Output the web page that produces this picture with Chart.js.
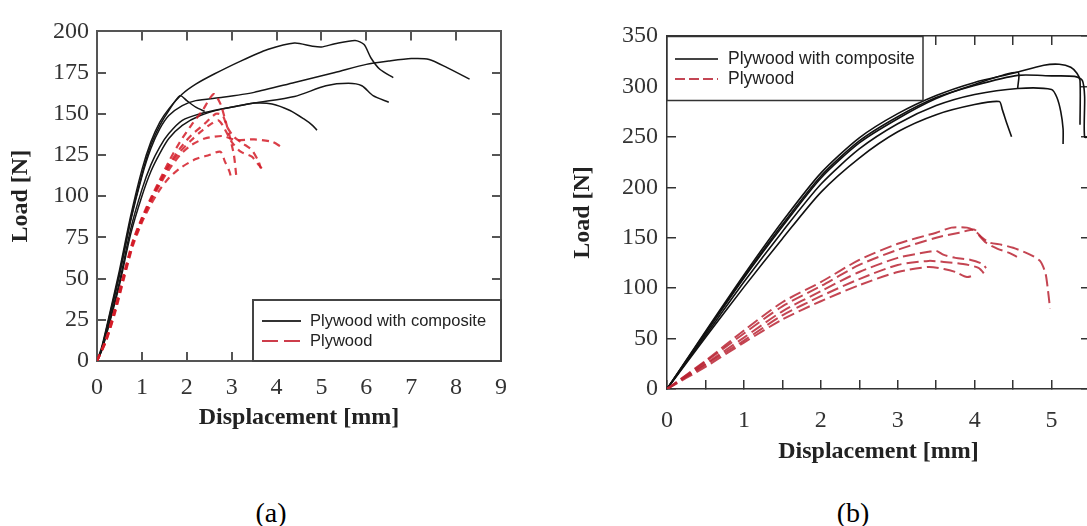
<!DOCTYPE html>
<html>
<head>
<meta charset="utf-8">
<script src="https://cdn.jsdelivr.net/npm/chart.js@4.4.1/dist/chart.umd.min.js"></script>
<style>
  html, body { margin: 0; padding: 0; background: #fff; width: 1087px; height: 526px; overflow: hidden; }
  #wrapA { position: absolute; left: 0; top: 0; width: 540px; height: 450px; }
  #wrapB { position: absolute; left: 540px; top: 0; width: 576px; height: 480px; }
  .cap { position: absolute; top: 497px; font: 28px "Liberation Serif", "Times New Roman", serif; color: #000; transform: translateX(-50%); line-height: 32px; }
</style>
</head>
<body>
<div id="wrapA"><canvas id="loadA" width="540" height="450"></canvas></div>
<div id="wrapB"><canvas id="loadB" width="576" height="480"></canvas></div>
<div class="cap" style="left:271px">(a)</div>
<div class="cap" style="left:853px">(b)</div>

<script>
const seriesNames = ['Plywood with composite', 'Plywood'];

// ---- panel (a) ----
const dispTicksA = [0, 1, 2, 3, 4, 5, 6, 7, 8, 9];
const loadTicksA = [0, 25, 50, 75, 100, 125, 150, 175, 200];

// [displacement mm, load N]
const compA1 = [[0,0],[0.1,8],[0.25,25],[0.5,55],[0.75,88],[1.0,116],[1.2,133],[1.4,145],[1.6,153],[1.9,162],[2.2,168],[2.6,174],[3.2,182],[3.8,189],[4.4,193],[4.8,191],[5.0,190.5],[5.3,192.5],[5.75,194.5],[5.95,192],[6.1,184],[6.3,177],[6.6,172]];
const compA2 = [[0,0],[0.1,7],[0.25,23],[0.5,52],[0.75,85],[1.0,112],[1.2,129],[1.4,141],[1.6,149],[1.9,155],[2.2,158],[2.8,160],[3.5,163],[4.4,169],[5.3,175],[6.0,180],[6.5,182],[7.0,183.5],[7.4,183],[7.8,178],[8.3,171]];
const compA3 = [[0,0],[0.1,6],[0.25,21],[0.5,48],[0.75,80],[1.0,104],[1.2,119],[1.4,130],[1.6,138],[1.9,146],[2.3,150],[2.8,153],[3.5,156.5],[4.4,160.5],[5.1,167],[5.6,168.5],[5.9,167],[6.15,161],[6.5,157]];
const compA4 = [[0,0],[0.1,6],[0.25,20],[0.5,46],[0.75,77],[1.0,100],[1.2,115],[1.4,126],[1.6,135],[1.9,143],[2.3,149],[2.8,153],[3.2,155],[3.5,156.5],[3.9,156],[4.3,152],[4.6,147],[4.8,143],[4.9,140]];
const compA5 = [[0,0],[0.1,7],[0.25,24],[0.5,53],[0.75,86],[1.0,113],[1.2,131],[1.4,143],[1.6,152],[1.85,161],[2.0,158],[2.2,154],[2.4,151.5]];

const plyA1 = [[0,0],[0.2,13],[0.4,32],[0.6,53],[0.8,73],[1.0,87],[1.2,99],[1.4,110],[1.6,121],[1.85,133],[2.1,143],[2.35,152],[2.6,162],[2.75,156],[2.85,147],[2.95,137],[3.05,125],[3.1,113]];
const plyA2 = [[0,0],[0.2,13],[0.4,31],[0.6,52],[0.8,72],[1.0,86],[1.2,98],[1.4,109],[1.6,119],[1.85,129],[2.1,137],[2.4,144],[2.65,150],[2.8,149],[2.9,142],[3.05,136],[3.25,132],[3.45,128],[3.6,121],[3.65,117]];
const plyA3 = [[0,0],[0.2,12],[0.4,30],[0.6,51],[0.8,71],[1.0,85],[1.2,97],[1.4,107],[1.6,116],[1.85,125],[2.1,131],[2.4,135],[2.8,136.5],[3.1,134],[3.5,134.5],[3.9,133],[4.1,130]];
const plyA4 = [[0,0],[0.2,12],[0.4,29],[0.6,50],[0.8,70],[1.0,84],[1.2,95],[1.4,104],[1.6,111],[1.85,117],[2.2,122.5],[2.5,125],[2.75,127],[2.85,121],[2.95,115],[3.0,110]];
const plyA5 = [[0,0],[0.2,13],[0.4,31],[0.6,52],[0.8,72],[1.0,86],[1.2,98],[1.4,108],[1.6,118],[1.85,127],[2.1,134],[2.35,140],[2.55,144],[2.7,146],[2.8,143],[3.0,133],[3.2,127],[3.45,124],[3.6,119],[3.7,116]];

// ---- panel (b) ----
const dispTicksB = [0, 0.5, 1, 1.5, 2, 2.5, 3, 3.5, 4, 4.5, 5, 5.5];
const loadTicksB = [0, 50, 100, 150, 200, 250, 300, 350];

const compB1 = [[0,0],[0.5,57],[1,113],[1.5,166],[2,214],[2.5,249],[3,273],[3.5,291],[4,304],[4.5,313],[4.9,321],[5.1,322],[5.25,319],[5.33,313],[5.37,306],[5.37,262]];
const compB2 = [[0,0],[0.5,56],[1,111],[1.5,163],[2,211],[2.5,246],[3,270],[3.5,289],[4,301],[4.56,311],[5.0,310.5],[5.3,310],[5.4,306],[5.43,290],[5.43,250],[5.5,250]];
const compB3 = [[0,0],[0.5,53],[1,106],[1.5,156],[2,203],[2.5,238],[3,263],[3.5,281],[4,292],[4.56,298],[5.0,297],[5.07,289],[5.12,275],[5.15,258],[5.15,243]];
const compB4 = [[0,0],[0.5,51],[1,101],[1.5,149],[2,195],[2.5,229],[3,255],[3.5,272],[4,282],[4.32,285],[4.36,277],[4.42,263],[4.48,250]];
const compB5 = [[0,0],[0.5,55],[1,110],[1.5,161],[2,209],[2.5,244],[3,268],[3.5,288],[4,302],[4.56,314],[4.56,298]];

const plyB1 = [[0,0],[0.5,28],[1,58],[1.5,86],[2,106],[2.5,128],[3,144],[3.5,155],[3.7,160],[3.9,160],[4.0,157],[4.1,150],[4.2,145],[4.35,143],[4.5,140],[4.7,134],[4.85,127],[4.92,115],[4.95,100],[4.98,80]];
const plyB2 = [[0,0],[0.5,27],[1,55],[1.5,82],[2,102],[2.5,123],[3,138],[3.5,150],[3.8,155],[4.0,158],[4.05,153],[4.15,145],[4.3,139],[4.45,135],[4.55,131]];
const plyB3 = [[0,0],[0.5,25],[1,51],[1.5,77],[2,97],[2.5,116],[3,130],[3.4,136],[3.5,137],[3.6,133],[3.75,130],[3.95,128],[4.1,124],[4.15,120]];
const plyB4 = [[0,0],[0.5,24],[1,48],[1.5,73],[2,92],[2.5,109],[3,123],[3.4,127],[3.6,126],[3.85,124],[4.05,120],[4.15,112]];
const plyB5 = [[0,0],[0.5,22],[1,46],[1.5,69],[2,87],[2.5,103],[3,116],[3.4,121],[3.6,119],[3.75,116],[3.9,111],[4.0,113]];

const tickFont = { family: '"Liberation Serif", "Times New Roman", serif', size: 24 };
const titleFont = { family: '"Liberation Serif", "Times New Roman", serif', size: 24, weight: 'bold' };

function curve(points, color, width, dash) {
  return {
    data: points.map(p => ({ x: p[0], y: p[1] })),
    borderColor: color,
    borderWidth: width,
    borderDash: dash,
    pointRadius: 0,
    tension: 0.25,
    fill: false
  };
}

// one side of the boxed frame, ticks pointing inward
function side(position, min, max, tickVals, frame, extra) {
  return Object.assign({
    type: 'linear',
    position: position,
    min: min,
    max: max,
    afterBuildTicks: s => { s.ticks = tickVals.map(v => ({ value: v })); },
    grid: { display: true, drawOnChartArea: false, drawTicks: true, tickLength: -9, color: frame.color, lineWidth: frame.width },
    border: { display: true, color: frame.color, width: frame.width },
    ticks: { display: false }
  }, extra);
}

function legendBox(cfg) {
  return {
    id: 'legendBox',
    afterDraw(chart) {
      const ctx = chart.ctx;
      ctx.save();
      ctx.fillStyle = '#fff';
      ctx.fillRect(cfg.left, cfg.top, cfg.right - cfg.left, cfg.bottom - cfg.top);
      ctx.strokeStyle = cfg.edge;
      ctx.lineWidth = cfg.edgeWidth;
      ctx.strokeRect(cfg.left, cfg.top, cfg.right - cfg.left, cfg.bottom - cfg.top);
      ctx.font = cfg.font;
      ctx.textBaseline = 'middle';
      cfg.rows.forEach(r => {
        ctx.strokeStyle = r.color;
        ctx.lineWidth = r.width;
        ctx.setLineDash(r.dash);
        ctx.beginPath();
        ctx.moveTo(cfg.sample[0], r.y);
        ctx.lineTo(cfg.sample[1], r.y);
        ctx.stroke();
        ctx.setLineDash([]);
        ctx.fillStyle = '#222';
        ctx.fillText(r.text, cfg.textX, r.y);
      });
      ctx.restore();
    }
  };
}

// ---- chart (a) ----
const frameA = { color: '#555', width: 2 };
const redA = 'rgba(212, 28, 40, 0.85)';
const blackA = '#161616';

new Chart(document.getElementById('loadA'), {
  type: 'line',
  data: {
    datasets: [
      ...[plyA1, plyA2, plyA3, plyA4, plyA5].map(p => curve(p, redA, 2.2, [7, 5])),
      ...[compA1, compA2, compA3, compA4, compA5].map(p => curve(p, blackA, 1.5, []))
    ]
  },
  options: {
    responsive: false,
    animation: false,
    layout: { padding: { top: 23, left: 0, right: 0, bottom: 0 } },
    plugins: { legend: { display: false }, tooltip: { enabled: false } },
    scales: {
      x: side('bottom', 0, 9, dispTicksA, frameA, {
        afterFit: s => { s.height = 89; },
        ticks: { display: true, autoSkip: false, maxRotation: 0, padding: 21, color: '#333', font: tickFont },
        title: { display: true, text: 'Displacement [mm]', color: '#222', font: titleFont, padding: { top: 0, bottom: 18 } }
      }),
      x2: side('top', 0, 9, dispTicksA, frameA, { afterFit: s => { s.height = 0; } }),
      y: side('left', 0, 200, loadTicksA, frameA, {
        afterFit: s => { s.width = 97; },
        ticks: { display: true, autoSkip: false, padding: 17, color: '#333', font: tickFont },
        title: { display: true, text: 'Load [N]', color: '#222', font: titleFont, padding: { top: 6, bottom: 0 } }
      }),
      y2: side('right', 0, 200, loadTicksA, frameA, { afterFit: s => { s.width = 39; } })
    }
  },
  plugins: [legendBox({
    left: 253, top: 300, right: 501, bottom: 361,
    edge: '#444', edgeWidth: 2,
    sample: [262, 301], textX: 310,
    font: '16.5px "Liberation Sans", Arial, sans-serif',
    rows: [
      { text: seriesNames[0], y: 321, color: '#333', width: 1.8, dash: [] },
      { text: seriesNames[1], y: 341, color: 'rgba(200, 40, 55, 0.9)', width: 1.8, dash: [16, 6] }
    ]
  })]
});

// ---- chart (b) ----
const frameB = { color: '#333', width: 1.5 };
const redB = 'rgba(186, 36, 52, 0.85)';
const blackB = '#111';

new Chart(document.getElementById('loadB'), {
  type: 'line',
  data: {
    datasets: [
      ...[plyB1, plyB2, plyB3, plyB4, plyB5].map(p => curve(p, redB, 2, [12, 5])),
      ...[compB1, compB2, compB3, compB4, compB5].map(p => curve(p, blackB, 1.6, []))
    ]
  },
  options: {
    responsive: false,
    animation: false,
    layout: { padding: { top: 36, left: 0, right: 0, bottom: 0 } },
    plugins: { legend: { display: false }, tooltip: { enabled: false } },
    scales: {
      x: side('bottom', 0, 5.5, dispTicksB, frameB, {
        afterFit: s => { s.height = 91; },
        ticks: {
          display: true, autoSkip: false, maxRotation: 0, padding: 26, color: '#333', font: tickFont,
          callback: v => Number.isInteger(v) ? String(v) : ''
        },
        title: { display: true, text: 'Displacement [mm]', color: '#222', font: titleFont, padding: { top: 0, bottom: 14 } }
      }),
      x2: side('top', 0, 5.5, dispTicksB, frameB, { afterFit: s => { s.height = 0; } }),
      y: side('left', 0, 350, loadTicksB, frameB, {
        afterFit: s => { s.width = 127; },
        ticks: { display: true, autoSkip: false, padding: 18, color: '#333', font: tickFont },
        title: { display: true, text: 'Load [N]', color: '#222', font: titleFont, padding: { top: 28, bottom: 0 } }
      }),
      y2: side('right', 0, 350, loadTicksB, frameB, { afterFit: s => { s.width = 26; } })
    }
  },
  plugins: [legendBox({
    left: 127, top: 36.5, right: 383, bottom: 100.5,
    edge: '#333', edgeWidth: 1.5,
    sample: [135, 178], textX: 188,
    font: '17.5px "Liberation Sans", Arial, sans-serif',
    rows: [
      { text: seriesNames[0], y: 59, color: '#444', width: 2, dash: [] },
      { text: seriesNames[1], y: 79, color: 'rgba(190, 50, 65, 0.9)', width: 2, dash: [10, 4] }
    ]
  })]
});
</script>
</body>
</html>
